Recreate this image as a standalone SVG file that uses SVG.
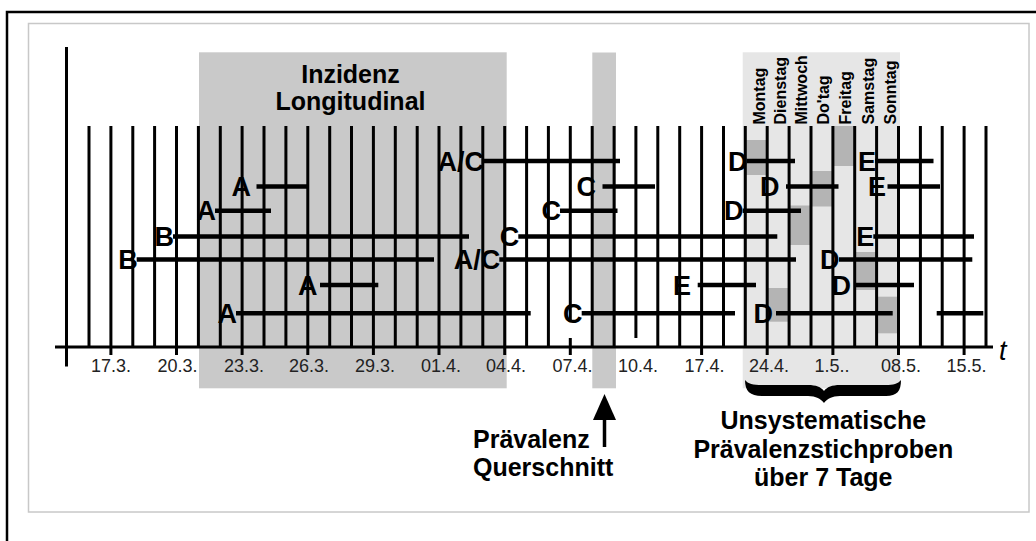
<svg xmlns="http://www.w3.org/2000/svg" width="1036" height="541" viewBox="0 0 1036 541">
<style>
.reg{fill:#c9c9c9}
.week{fill:#e6e6e6}
.patch{fill:#b4b4b4}
.vl{stroke:#000;stroke-width:3;fill:none}
.seg{stroke:#000;stroke-width:4.5}
.lbl{font-family:"Liberation Sans",Arial,sans-serif;font-weight:bold;font-size:27px;fill:#000;text-anchor:end}
.date{font-family:"Liberation Sans",Arial,sans-serif;font-size:18px;fill:#222}
.day{font-family:"Liberation Sans",Arial,sans-serif;font-weight:bold;font-size:16px;fill:#000}
.big{font-family:"Liberation Sans",Arial,sans-serif;font-weight:bold;font-size:25px;fill:#000}
</style>
<rect width="1036" height="541" fill="#fff"/>
<rect x="7" y="12" width="1100" height="600" fill="none" stroke="#000" stroke-width="2.5"/>
<rect x="28.5" y="23.5" width="1000.5" height="488.5" fill="none" stroke="#c8c8c8" stroke-width="1.5"/>

<g id="regions">
<rect class="reg" x="199" y="52.3" width="307.7" height="336"/>
<rect class="reg" x="592.3" y="52.5" width="23.7" height="335.8"/>
<rect class="week" x="742.7" y="52.3" width="157.3" height="336"/>
<rect class="patch" x="745.3" y="140" width="21.9" height="35"/>
<rect class="patch" x="832.9" y="126" width="21.8" height="40"/>
<rect class="patch" x="811" y="171" width="21.9" height="35.5"/>
<rect class="patch" x="789.1" y="205.5" width="21.9" height="39.5"/>
<rect class="patch" x="854.7" y="252" width="21.9" height="38"/>
<rect class="patch" x="767.2" y="288" width="21.9" height="33.7"/>
<rect class="patch" x="876.6" y="296.7" width="21.9" height="36.6"/>
</g>

<g id="grid">
<path class="vl" d="M89 126V347M110.9 126V355M132.8 126V347M154.6 126V347M176.5 126V355M198.4 126V347M220.3 126V347M242.1 126V355M264 126V347M285.9 126V347M307.8 126V355M329.7 126V347M351.5 126V347M373.4 126V355M395.3 126V347M417.2 126V347M439 126V355M460.9 126V347M482.8 126V347M504.7 126V355M526.6 126V347M548.4 126V347M570.3 126V322M570.3 338V355M592.2 126V347M614.1 126V347M635.9 126V338M657.8 126V347M679.7 126V347M701.6 126V355M723.5 126V347M745.3 126V347M767.2 126V355M789.1 126V347M811 126V347M832.9 126V355M854.7 126V347M876.6 126V347M898.5 126V355M920.4 126V347M942.2 126V347M964.1 126V355M986 126V347"/>
<line x1="55" y1="347" x2="993" y2="347" stroke="#000" stroke-width="3"/>
<line x1="66.5" y1="47" x2="66.5" y2="366.5" stroke="#000" stroke-width="3"/>
<text x="999" y="360" font-family="Liberation Sans,Arial,sans-serif" font-style="italic" font-size="27">t</text>
</g>

<g id="dates" class="date">
<text x="91" y="371.5">17.3.</text>
<text x="157.5" y="371.5">20.3.</text>
<text x="224" y="371.5">23.3.</text>
<text x="289" y="371.5">26.3.</text>
<text x="355" y="371.5">29.3.</text>
<text x="421" y="371.5">01.4.</text>
<text x="486" y="371.5">04.4.</text>
<text x="552.5" y="371.5">07.4.</text>
<text x="618" y="371.5">10.4.</text>
<text x="684.5" y="371.5">17.4.</text>
<text x="749" y="371.5">24.4.</text>
<text x="814.5" y="371.5">1.5..</text>
<text x="881" y="371.5">08.5.</text>
<text x="946.5" y="371.5">15.5.</text>
</g>

<g id="days" class="day">
<text transform="translate(764.5,124.5) rotate(-90)">Montag</text>
<text transform="translate(785.5,124.5) rotate(-90)">Dienstag</text>
<text transform="translate(807,124.5) rotate(-90)">Mittwoch</text>
<text transform="translate(828.5,124.5) rotate(-90)">Do'tag</text>
<text transform="translate(850.5,124.5) rotate(-90)">Freitag</text>
<text transform="translate(873.5,124.5) rotate(-90)">Samstag</text>
<text transform="translate(895.5,124.5) rotate(-90)">Sonntag</text>
</g>

<g id="connectors">
<g id="r1ac"><line class="seg" x1="483" y1="161" x2="620" y2="161"/><text class="lbl" x="484" y="170.7">A/C</text></g>
<g id="r1d"><line class="seg" x1="746.7" y1="161" x2="795" y2="161"/><text class="lbl" x="747.5" y="170.7">D</text></g>
<g id="r1e"><line class="seg" x1="875" y1="161" x2="933.5" y2="161"/><text class="lbl" x="876" y="170.7">E</text></g>

<g id="r2a"><line class="seg" x1="256.5" y1="186.5" x2="307" y2="186.5"/><text class="lbl" x="251" y="196.2">A</text></g>
<g id="r2c"><line class="seg" x1="602.5" y1="186.5" x2="655" y2="186.5"/><text class="lbl" x="596" y="196.2">C</text></g>
<g id="r2d"><line class="seg" x1="786" y1="186.5" x2="838.5" y2="186.5"/><text class="lbl" x="779.5" y="196.2">D</text></g>
<g id="r2e"><line class="seg" x1="887.5" y1="186.5" x2="940" y2="186.5"/><text class="lbl" x="886" y="196.2">E</text></g>

<g id="r3a"><line class="seg" x1="215" y1="210.7" x2="271" y2="210.7"/><text class="lbl" x="216" y="220.4">A</text></g>
<g id="r3c"><line class="seg" x1="560" y1="210.7" x2="617.5" y2="210.7"/><text class="lbl" x="561" y="220.4">C</text></g>
<g id="r3d"><line class="seg" x1="742.7" y1="210.7" x2="801" y2="210.7"/><text class="lbl" x="743.5" y="220.4">D</text></g>

<g id="r4b"><line class="seg" x1="173" y1="236.5" x2="469" y2="236.5"/><text class="lbl" x="174" y="246.2">B</text></g>
<g id="r4c"><line class="seg" x1="518.3" y1="236.5" x2="777.3" y2="236.5"/><text class="lbl" x="519.3" y="246.2">C</text></g>
<g id="r4e"><line class="seg" x1="873.3" y1="236.5" x2="974" y2="236.5"/><text class="lbl" x="874.3" y="246.2">E</text></g>

<g id="r5b"><line class="seg" x1="136.7" y1="259.5" x2="434" y2="259.5"/><text class="lbl" x="137.7" y="269.2">B</text></g>
<g id="r5ac"><line class="seg" x1="499.3" y1="259.5" x2="796" y2="259.5"/><text class="lbl" x="500.3" y="269.2">A/C</text></g>
<g id="r5d"><line class="seg" x1="839" y1="259.5" x2="972.3" y2="259.5"/><text class="lbl" x="839.5" y="269.2">D</text></g>

<g id="r6a"><line class="seg" x1="320" y1="285" x2="378.3" y2="285"/><text class="lbl" x="317.5" y="294.7">A</text></g>
<g id="r6e"><line class="seg" x1="697.7" y1="285" x2="756" y2="285"/><text class="lbl" x="691" y="294.7">E</text></g>
<g id="r6d"><line class="seg" x1="855" y1="285" x2="914" y2="285"/><text class="lbl" x="851" y="294.7">D</text></g>

<g id="r7a"><line class="seg" x1="236" y1="313.3" x2="530.7" y2="313.3"/><text class="lbl" x="237" y="323">A</text></g>
<g id="r7c"><line class="seg" x1="581.7" y1="313.3" x2="735" y2="313.3"/><text class="lbl" x="582.5" y="323">C</text></g>
<g id="r7d"><line class="seg" x1="776" y1="313.3" x2="892.7" y2="313.3"/><text class="lbl" x="773" y="323">D</text></g>
<g id="r7x"><line class="seg" x1="936.7" y1="313.3" x2="983.3" y2="313.3"/></g>
</g>

<g id="title" class="big" text-anchor="middle">
<text x="350.5" y="82.7">Inzidenz</text>
<text x="350.5" y="110">Longitudinal</text>
</g>

<g id="praevalenz">
<line x1="604.5" y1="418" x2="604.5" y2="447" stroke="#000" stroke-width="3.5"/>
<polygon points="604.5,394 616,420 593,420" fill="#000"/>
<text class="big" x="473" y="448.3">Prävalenz</text>
<text class="big" x="473" y="475.5">Querschnitt</text>
</g>

<g id="stichproben">
<path d="M745 380C745 391 750 396 762 396L808 396C816 396 821 399 824 403C827 399 832 396 840 396L886 396C897 396 901 391 901 380C898 384 893 385 886 385L840 385C832 385 827 387 824 391C821 387 816 385 808 385L762 385C753 385 748 384 745 380Z" fill="#000"/>
<g class="big" text-anchor="middle">
<text x="823.3" y="429.3">Unsystematische</text>
<text x="823.3" y="458.3">Prävalenzstichproben</text>
<text x="823.3" y="486">über 7 Tage</text>
</g>
</g>
</svg>
